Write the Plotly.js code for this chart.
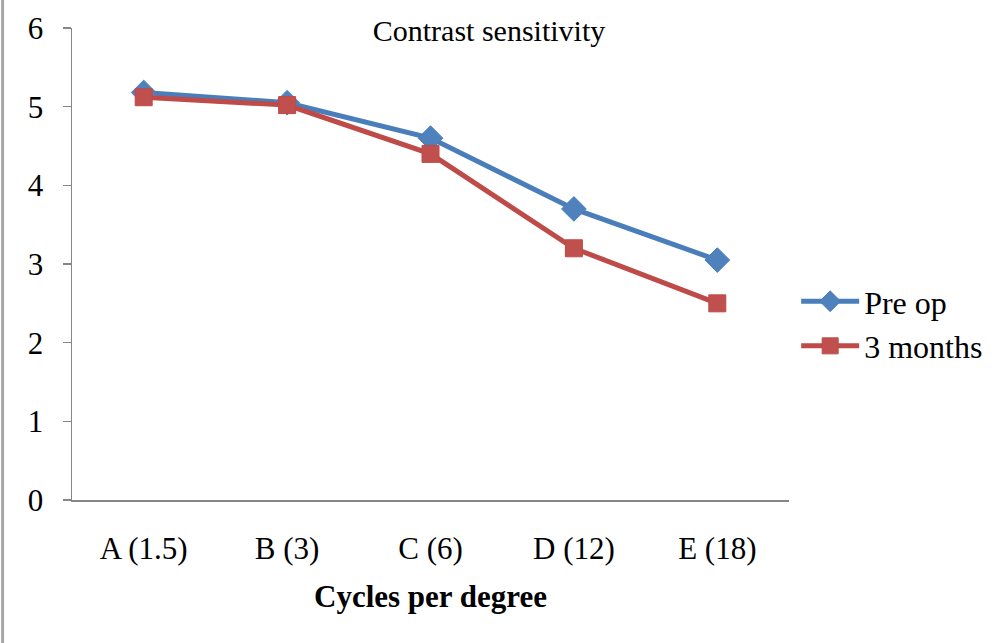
<!DOCTYPE html>
<html>
<head>
<meta charset="utf-8">
<script src="https://cdn.plot.ly/plotly-3.0.1.min.js"></script>
<style>html,body{margin:0;padding:0;background:#fff;}#chart{width:1000px;height:643px;}</style>
</head>
<body>
<div id="chart"></div>
<script>
const categories = ["A (1.5)", "B (3)", "C (6)", "D (12)", "E (18)"];
const preOp = [5.18, 5.05, 4.60, 3.70, 3.05];
const threeMonths = [5.12, 5.02, 4.40, 3.20, 2.50];
const yTicks = [0, 1, 2, 3, 4, 5, 6];

const serif = "Liberation Serif, Times New Roman, serif";

const traces = [
  {
    x: categories, y: preOp, name: "Pre op", type: "scatter", mode: "lines+markers",
    line: {color: "#4A7EBB", width: 5},
    marker: {symbol: "diamond", size: 19, color: "#4F81BD", line: {color: "#4A7EBB", width: 1}}
  },
  {
    x: categories, y: threeMonths, name: "3 months", type: "scatter", mode: "lines+markers",
    line: {color: "#BE4B48", width: 5},
    marker: {symbol: "square", size: 17, color: "#C0504D", line: {color: "#BE4B48", width: 1}}
  }
];

const layout = {
  width: 1000, height: 643,
  margin: {l: 72, r: 205, t: 28, b: 143},
  paper_bgcolor: "#fff", plot_bgcolor: "#fff",
  font: {family: serif, color: "#000"},
  title: {
    text: "Contrast sensitivity",
    font: {family: serif, size: 30, color: "#000"},
    xref: "container", yref: "container",
    x: 0.489, y: 1 - 30/643, xanchor: "center", yanchor: "middle"
  },
  xaxis: {
    type: "category",
    range: [-0.5, 4.5],
    showline: true, linecolor: "#868686", linewidth: 1.5,
    ticks: "", showgrid: false, zeroline: false,
    tickfont: {family: serif, size: 31, color: "#000"},
    ticklabelstandoff: 20,
    title: {text: "<b>Cycles per degree</b>", font: {family: serif, size: 31, color: "#000"}, standoff: 20}
  },
  yaxis: {
    range: [0, 6],
    tickvals: yTicks,
    showline: true, linecolor: "#868686", linewidth: 1.5,
    ticks: "outside", ticklen: 8, tickcolor: "#868686", tickwidth: 1.5,
    showgrid: false, zeroline: false,
    tickfont: {family: serif, size: 31, color: "#000"},
    ticklabelstandoff: 13
  },
  legend: {
    x: 1.01, xanchor: "left", y: 0.373, yanchor: "middle",
    font: {family: serif, size: 32, color: "#000"},
    bgcolor: "rgba(0,0,0,0)", tracegroupgap: 6, itemwidth: 58
  },
  shapes: [
    {type: "line", xref: "paper", yref: "paper", x0: -70/723, x1: -70/723, y0: -143/472, y1: 28/472 + 1,
     line: {color: "#A6A6A6", width: 3}}
  ]
};

Plotly.newPlot("chart", traces, layout, {displayModeBar: false, staticPlot: true});
</script>
</body>
</html>
